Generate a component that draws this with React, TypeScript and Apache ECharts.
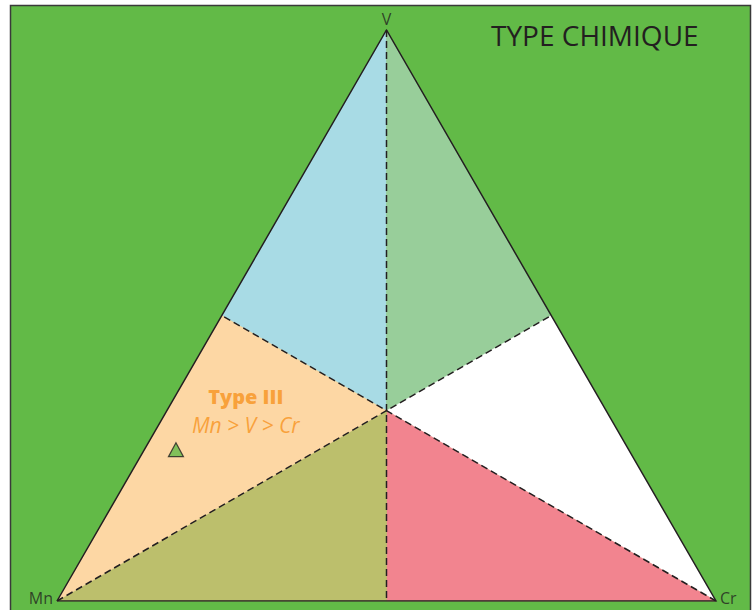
import React, { useEffect, useRef } from "react";
import * as echarts from "echarts";

// Ternary components: [Mn, V, Cr]
const vertexNames = ["Mn", "V", "Cr"];
const vertexTernary: number[][] = [
  [1, 0, 0],
  [0, 1, 0],
  [0, 0, 1],
];
const centroid = [1 / 3, 1 / 3, 1 / 3];
const midMnV = [0.5, 0.5, 0];
const midVCr = [0, 0.5, 0.5];
const midMnCr = [0.5, 0, 0.5];

const regionNames = ["V > Mn > Cr", "V > Cr > Mn", "Cr > V > Mn", "Cr > Mn > V", "Mn > Cr > V", "Mn > V > Cr"];
const regionPoints: number[][][] = [
  [vertexTernary[1], midMnV, centroid],
  [vertexTernary[1], centroid, midVCr],
  [midVCr, centroid, vertexTernary[2]],
  [vertexTernary[2], centroid, midMnCr],
  [midMnCr, centroid, vertexTernary[0]],
  [vertexTernary[0], centroid, midMnV],
];
const regionColors = ["#A8DBE5", "#98CE9A", "#FFFFFF", "#F2848F", "#BCBF6C", "#FDD7A4"];

const medians: number[][][] = [
  [vertexTernary[1], midMnCr],
  [vertexTernary[0], midVCr],
  [vertexTernary[2], midMnV],
];

// sample point [Mn, V, Cr] in %
const samplePoints: number[][] = [[68.7, 26.5, 4.8]];

const annotationTernary = [0.547, 0.333, 0.12];
const annotationTitle = "Type III";
const annotationText = "Mn > V > Cr";

const SQ = Math.sqrt(3) / 2;
function toXY(t: number[]): number[] {
  const s = t[0] + t[1] + t[2];
  const b = t[1] / s;
  const c = t[2] / s;
  return [c + b / 2, b * SQ];
}

export default function App() {
  const ref = useRef<HTMLDivElement>(null);
  useEffect(() => {
    if (!ref.current) return;
    const chart = echarts.init(ref.current, null, { renderer: "svg" });
    const font = "'Open Sans', 'DejaVu Sans', sans-serif";
    const dark = "#231F20";
    const orange = "#F7931E";
    const option: any = {
      animation: false,
      backgroundColor: "#FFFFFF",
      title: {
        text: "TYPE CHIMIQUE",
        left: 486,
        top: 16,
        textStyle: { fontSize: 28, fontWeight: "normal", color: dark, fontFamily: font },
      },
      graphic: [
        {
          type: "rect",
          z: 0,
          shape: { x: 10.5, y: 5.5, width: 740, height: 620 },
          style: { fill: "#62BA47", stroke: "#3A3A3A", lineWidth: 1.5 },
        },
      ],
      grid: { left: 57, right: 36, top: 30, bottom: 9 },
      xAxis: { type: "value", min: 0, max: 1, show: false },
      yAxis: { type: "value", min: 0, max: SQ, show: false },
      series: [
        {
          type: "custom",
          z: 2,
          silent: true,
          data: regionPoints.map((pts, i) => {
            const xy = pts.map(toXY);
            return {
              name: regionNames[i],
              value: [(xy[0][0] + xy[1][0] + xy[2][0]) / 3, (xy[0][1] + xy[1][1] + xy[2][1]) / 3],
            };
          }),
          renderItem: (params: any, api: any) => {
            const pts = regionPoints[params.dataIndex].map((t) => api.coord(toXY(t)));
            return {
              type: "polygon",
              shape: { points: pts },
              style: { fill: regionColors[params.dataIndex], stroke: regionColors[params.dataIndex], lineWidth: 0.5 },
            };
          },
        },
        ...medians.map((m) => ({
          type: "line",
          z: 3,
          silent: true,
          symbol: "none",
          data: m.map(toXY),
          lineStyle: { color: dark, width: 1.5, type: [7, 4] },
        })),
        {
          type: "line",
          z: 4,
          silent: true,
          symbol: "none",
          data: [...vertexTernary, vertexTernary[0]].map(toXY),
          lineStyle: { color: dark, width: 1.5, join: "miter" },
        },
        {
          type: "scatter",
          z: 5,
          silent: true,
          symbol: "triangle",
          symbolSize: [15, 14],
          itemStyle: { color: "#62BA47", borderColor: dark, borderWidth: 1.2 },
          data: samplePoints.map(toXY),
        },
        {
          type: "scatter",
          z: 6,
          silent: true,
          symbolSize: 0,
          data: vertexTernary.map((t, i) => {
            const pos = i === 0 ? "left" : i === 1 ? "top" : "right";
            const offset = i === 0 ? [0, -3] : i === 1 ? [0, 1] : [0, -3];
            return {
              name: vertexNames[i],
              value: toXY(t),
              label: { position: pos, offset, distance: 4 },
            };
          }),
          label: {
            show: true,
            formatter: "{b}",
            fontSize: 16,
            color: dark,
            fontFamily: font,
          },
        },
        {
          type: "scatter",
          z: 6,
          silent: true,
          symbolSize: 0,
          data: [{ name: annotationTitle, value: toXY(annotationTernary) }],
          label: {
            show: true,
            position: "inside",
            formatter: "{t|" + annotationTitle + "}\n{s|" + annotationText + "}",
            rich: {
              t: { fontSize: 20, fontWeight: 800, color: orange, fontFamily: font, lineHeight: 28, align: "center" },
              s: { fontSize: 21, fontStyle: "italic", color: orange, fontFamily: font, lineHeight: 28, align: "center" },
            },
          },
        },
      ],
    };
    chart.setOption(option);
    return () => chart.dispose();
  }, []);
  return (
    <div
      ref={ref}
      style={{ position: "fixed", left: 0, top: 0, width: 752, height: 610, background: "#fff" }}
    />
  );
}
